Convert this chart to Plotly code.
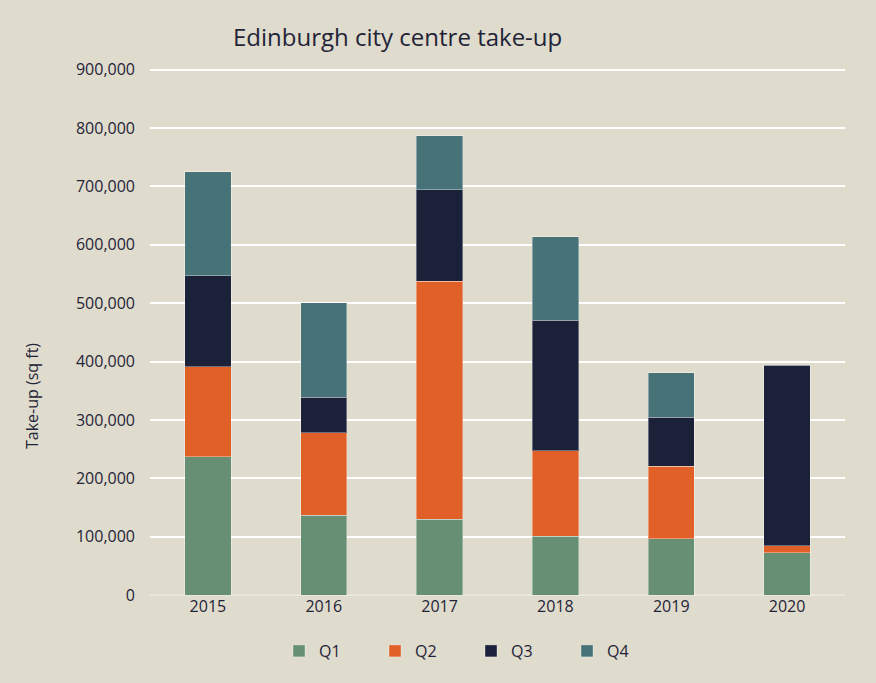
import plotly.graph_objects as go

years = ["2015", "2016", "2017", "2018", "2019", "2020"]
q1 = [237000, 137000, 130000, 101000, 96000, 72000]
q2 = [154000, 141000, 408000, 146000, 125000, 12000]
q3 = [156000, 61000, 156000, 224000, 84000, 310000]
q4 = [178000, 162000, 93000, 143000, 76000, 0]
series_names = ["Q1", "Q2", "Q3", "Q4"]
colors = ["#678f73", "#e06028", "#1b2139", "#477378"]
y_ticks = [0, 100000, 200000, 300000, 400000, 500000, 600000, 700000, 800000, 900000]

fig = go.Figure()
for name, vals, c in zip(series_names, [q1, q2, q3, q4], colors):
    fig.add_trace(go.Bar(
        x=years, y=vals, name=name, marker_color=c,
        marker_line=dict(color="rgba(255,255,255,0.35)", width=1),
    ))

font_color = "#1f2438"
fig.update_layout(
    barmode="stack",
    bargap=0.6,
    width=876, height=683,
    paper_bgcolor="#dfdbcd",
    plot_bgcolor="#dfdbcd",
    margin=dict(l=150, r=31, t=68, b=88),
    font=dict(family="Open Sans, sans-serif", color=font_color, size=16),
    title=dict(text="Edinburgh city centre take-up", x=233/876, xanchor="left", xref="container",
               y=1-38/683, yanchor="middle", yref="container",
               font=dict(size=24, color=font_color)),
    yaxis=dict(
        range=[0, 903000], tickvals=y_ticks,
        ticktext=[f"{v:,}" for v in y_ticks],
        gridcolor="#ffffff", gridwidth=2,
        zeroline=True, zerolinecolor="#e9e6dc", zerolinewidth=2,
        ticks="", ticklabelstandoff=14,
        showline=False,
    ),
    xaxis=dict(showline=False, ticks="", tickfont=dict(size=16), showgrid=False),
    legend=dict(orientation="h", x=279/876, xanchor="left", xref="container",
                y=1-651/683, yref="container", yanchor="middle",
                entrywidth=51, font=dict(size=16), traceorder="normal", itemwidth=30),
    annotations=[dict(text="Take-up (sq ft)", textangle=-90, xref="paper", yref="paper",
                      x=-(150-32)/695, y=(595-396)/527, xanchor="center", yanchor="middle",
                      showarrow=False, font=dict(size=16, color=font_color))],
)
fig.write_html("out.html")
